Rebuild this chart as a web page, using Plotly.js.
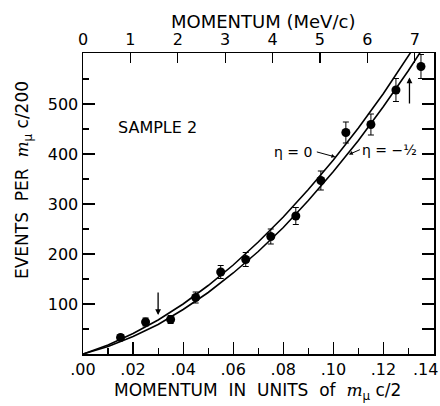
<!DOCTYPE html>
<html>
<head>
<meta charset="utf-8">
<script src="https://cdn.plot.ly/plotly-3.0.1.min.js"></script>
<style>html,body{margin:0;padding:0;background:#fff;}#chart{width:440px;height:406px;}</style>
</head>
<body>
<div id="chart"></div>
<script>
// Data
const momentumUnits = [0.015, 0.025, 0.035, 0.045, 0.055, 0.065, 0.075, 0.085, 0.095, 0.105, 0.115, 0.125, 0.135];
const events        = [33, 64, 69, 113, 164, 189, 235, 276, 347, 443, 459, 528, 575];
const eventErrors   = [6, 8, 8, 11, 13, 14, 15, 17, 19, 21, 21, 23, 24];

const curveX      = [0, 0.01, 0.02, 0.03, 0.04, 0.05, 0.06, 0.07, 0.08, 0.09, 0.10, 0.11, 0.12, 0.13, 0.14];
const curveEta0   = [0, 18, 41, 68, 100, 137, 178, 224, 274, 329, 388, 452, 521, 594, 672];
const curveEtaM12 = [0, 15, 35, 59, 89, 123, 162, 205, 253, 307, 365, 427, 495, 567, 644];

const bottomTickVals = [0, 0.02, 0.04, 0.06, 0.08, 0.10, 0.12, 0.14];
const bottomTickText = ['.00', '.02', '.04', '.06', '.08', '.10', '.12', ''];
const lastBottomLabel = '.14';
const leftTickVals = [100, 200, 300, 400, 500];
const leftTickText = ['100', '200', '300', '400', '500'];
const topTickVals = [0, 1, 2, 3, 4, 5, 6, 7];
const topTickText = ['0', '1', '2', '3', '4', '5', '6', '7'];

const MEV_PER_UNIT = 52.83; // m_mu c / 2 in MeV/c
const X_MAX = 0.1402;
const Y_MAX = 602;

const FONT = 'DejaVu Sans, Verdana, sans-serif';
const MSCRIPT = '<span style="font-family:DejaVu Serif, serif"><i>m</i></span>';

const traces = [
  {x: curveX, y: curveEta0, mode: 'lines', line: {color: '#000', width: 1.6}, hoverinfo: 'skip', showlegend: false},
  {x: curveX, y: curveEtaM12, mode: 'lines', line: {color: '#000', width: 1.6}, hoverinfo: 'skip', showlegend: false},
  {x: momentumUnits, y: events, mode: 'markers', marker: {color: '#000', size: 9},
   error_y: {type: 'data', array: eventErrors, visible: true, color: '#000', thickness: 1, width: 3},
   showlegend: false, cliponaxis: false},
  {x: [0], y: [0], xaxis: 'x2', yaxis: 'y2', mode: 'markers', marker: {opacity: 0}, hoverinfo: 'skip', showlegend: false}
];

const layout = {
  width: 440, height: 406,
  margin: {l: 83, r: 6, t: 53, b: 52},
  paper_bgcolor: '#fff', plot_bgcolor: '#fff',
  font: {family: FONT, color: '#000', size: 16},
  showlegend: false,
  xaxis: {
    range: [0, X_MAX], showgrid: false, zeroline: false,
    showline: true, linecolor: '#000', linewidth: 1.5,
    tickmode: 'array', tickvals: bottomTickVals, ticktext: bottomTickText,
    ticks: 'inside', ticklen: 12, tickwidth: 1.2, tickcolor: '#000',
    minor: {dtick: 0.01, tick0: 0, ticks: 'inside', ticklen: 6, tickwidth: 1.2, tickcolor: '#000'},
    tickfont: {size: 16, family: FONT}
  },
  yaxis: {
    range: [0, Y_MAX], showgrid: false, zeroline: false,
    showline: true, linecolor: '#000', linewidth: 1.5,
    tickmode: 'array', tickvals: leftTickVals, ticktext: leftTickText,
    ticks: 'inside', ticklen: 12, tickwidth: 1.2, tickcolor: '#000',
    minor: {dtick: 50, tick0: 0, ticks: 'inside', ticklen: 6, tickwidth: 1.2, tickcolor: '#000'},
    tickfont: {size: 16, family: FONT}
  },
  xaxis2: {
    overlaying: 'x', side: 'top', anchor: 'y2',
    range: [0, X_MAX * MEV_PER_UNIT], showgrid: false, zeroline: false,
    showline: true, linecolor: '#000', linewidth: 1.5,
    tickmode: 'array', tickvals: topTickVals, ticktext: topTickText,
    ticks: 'inside', ticklen: 10, tickwidth: 1.2, tickcolor: '#000',
    tickfont: {size: 16, family: FONT}
  },
  yaxis2: {
    overlaying: 'y', side: 'right', anchor: 'x2',
    range: [0, Y_MAX], showgrid: false, zeroline: false,
    showline: true, linecolor: '#000', linewidth: 1.5,
    dtick: 50, tick0: 0, ticks: 'inside', ticklen: 12, tickwidth: 1.2, tickcolor: '#000',
    showticklabels: false
  },
  annotations: [
    {text: lastBottomLabel, xref: 'paper', yref: 'paper', x: 1.017, y: -0.052, xanchor: 'right', yanchor: 'middle',
     showarrow: false, font: {size: 16, family: FONT}},
    {text: 'MOMENTUM (MeV/c)', xref: 'paper', yref: 'paper', x: 0.513, y: 1.103, xanchor: 'center', yanchor: 'middle',
     showarrow: false, font: {size: 18, family: FONT}},
    {text: 'MOMENTUM  IN  UNITS  of  ' + MSCRIPT + '<sub>μ</sub> c/2', xref: 'paper', yref: 'paper', x: 0.497, y: -0.125,
     xanchor: 'center', yanchor: 'middle', showarrow: false, font: {size: 17, family: FONT}},
    {text: 'EVENTS  PER  ' + MSCRIPT + '<sub>μ</sub> c/200', xref: 'paper', yref: 'paper', x: -0.171, y: 0.578,
     xanchor: 'center', yanchor: 'middle', textangle: -90, showarrow: false, font: {size: 17, family: FONT}},
    {text: 'SAMPLE 2', xref: 'x', yref: 'y', x: 0.0296, y: 454, xanchor: 'center', yanchor: 'middle',
     showarrow: false, font: {size: 16, family: FONT}},
    {text: 'η = 0', xref: 'x', yref: 'y', x: 0.0924, y: 404, xanchor: 'right', yanchor: 'middle', showarrow: false,
     font: {size: 14, family: FONT}},
    {text: 'η = −½', xref: 'x', yref: 'y', x: 0.1108, y: 409, xanchor: 'left', yanchor: 'middle', showarrow: false,
     font: {size: 14, family: FONT}},
    {x: 0.1062, y: 399, xref: 'x', yref: 'y', ax: 0.1112, ay: 410, axref: 'x', ayref: 'y', text: '',
     showarrow: true, arrowhead: 2, arrowsize: 0.8, arrowwidth: 1, arrowcolor: '#000'},
    {x: 0.1008, y: 394, xref: 'x', yref: 'y', ax: 0.0928, ay: 405, axref: 'x', ayref: 'y', text: '',
     showarrow: true, arrowhead: 2, arrowsize: 0.8, arrowwidth: 1, arrowcolor: '#000'},
    {x: 0.030, y: 78, xref: 'x', yref: 'y', ax: 0.030, ay: 126, axref: 'x', ayref: 'y', text: '',
     showarrow: true, arrowhead: 2, arrowsize: 0.9, arrowwidth: 1.3, arrowcolor: '#000'},
    {x: 0.1304, y: 553, xref: 'x', yref: 'y', ax: 0.1304, ay: 498, axref: 'x', ayref: 'y', text: '',
     showarrow: true, arrowhead: 2, arrowsize: 0.9, arrowwidth: 1.3, arrowcolor: '#000'}
  ]
};

Plotly.newPlot('chart', traces, layout, {staticPlot: true, displayModeBar: false});
</script>
</body>
</html>
